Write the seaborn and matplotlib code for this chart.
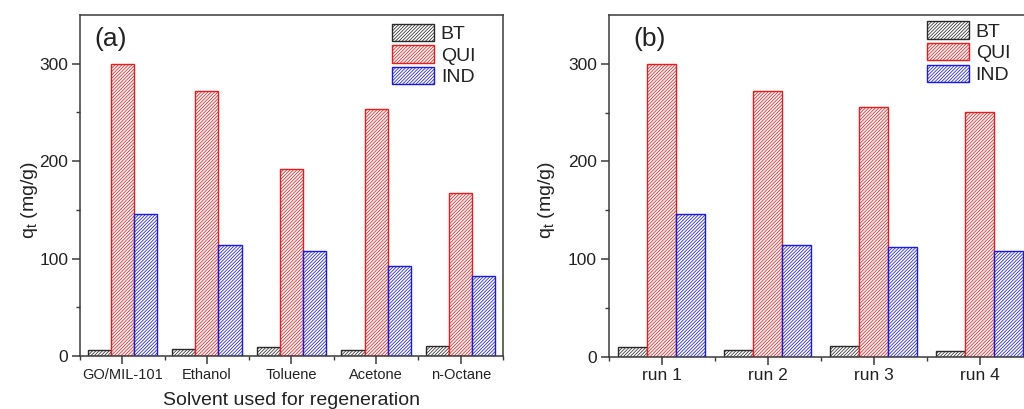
import matplotlib
matplotlib.use("Agg")
import matplotlib.pyplot as plt
import numpy as np
import pandas as pd
import seaborn as sns
from matplotlib.patches import Patch
from matplotlib.ticker import FixedLocator

# Adsorbed amount q_t (mg/g) of each compound
compounds = ["BT", "QUI", "IND"]

solvents = ["GO/MIL-101", "Ethanol", "Toluene", "Acetone", "n-Octane"]
bt_solvent = [6, 7, 9.5, 6, 10.5]
qui_solvent = [300, 272, 192, 254, 167]
ind_solvent = [146, 114, 108, 92.5, 82]

runs = ["run 1", "run 2", "run 3", "run 4"]
bt_runs = [9.5, 7, 11, 6]
qui_runs = [300, 272, 256, 251]
ind_runs = [146.5, 114, 112, 108]

edge_colors = {"BT": "#2a2a2a", "QUI": "#f01818", "IND": "#1818f0"}
HATCH = "//////////"

sns.set_style("ticks")
plt.rcParams["font.family"] = ["Liberation Sans", "DejaVu Sans"]
plt.rcParams["hatch.linewidth"] = 0.55
plt.rcParams["mathtext.default"] = "regular"

TEXT = "#222222"
SPINE = "#3a3a3a"


def long_frame(cats, bt, qui, ind):
    rows = []
    for name, vals in zip(compounds, [bt, qui, ind]):
        for c, v in zip(cats, vals):
            rows.append({"cat": c, "q": v, "compound": name})
    return pd.DataFrame(rows)


def draw_panel(ax, cats, bt, qui, ind, tag, tag_x, leg_anchor, xt_size, ylab_x):
    df = long_frame(cats, bt, qui, ind)
    sns.barplot(data=df, x="cat", y="q", hue="compound", order=cats,
                hue_order=compounds, palette=edge_colors, width=0.82,
                gap=0, saturation=1, legend=False, ax=ax)
    for cont, name in zip(ax.containers, compounds):
        for bar in cont:
            bar.set_facecolor("white")
            bar.set_edgecolor(edge_colors[name])
            bar.set_hatch(HATCH)
            bar.set_linewidth(1.0)

    n = len(cats)
    ax.set_xlim(-0.5, n - 0.5)
    ax.set_ylim(0, 350)
    ax.yaxis.set_major_locator(FixedLocator([0, 100, 200, 300]))
    ax.yaxis.set_minor_locator(FixedLocator([50, 150, 250]))
    ax.xaxis.set_minor_locator(FixedLocator([i + 0.5 for i in range(-1, n)]))

    for s in ax.spines.values():
        s.set_visible(True)
        s.set_linewidth(1.1)
        s.set_color(SPINE)
    ax.tick_params(axis="both", which="major", direction="out", length=6,
                   width=1.1, color=SPINE, pad=2.5, labelcolor=TEXT)
    ax.tick_params(axis="both", which="minor", direction="out", length=3,
                   width=1.0, color=SPINE)
    ax.tick_params(axis="y", labelsize=12.5)
    ax.tick_params(axis="x", labelsize=xt_size)

    ax.set_ylabel("q$_t$ (mg/g)", fontsize=14, color=TEXT)
    ax.yaxis.set_label_coords(ylab_x, 0.457)
    ax.set_xlabel("")

    ax.text(tag_x, 0.93, tag, transform=ax.transAxes, fontsize=19,
            color=TEXT, ha="left", va="center")

    handles = [Patch(facecolor="white", edgecolor=edge_colors[c], hatch=HATCH,
                     linewidth=1.0, label=c) for c in compounds]
    ax.legend(handles=handles, loc="upper left", bbox_to_anchor=leg_anchor,
              frameon=False, fontsize=14, handlelength=2.15,
              handleheight=1.0, labelspacing=0.12, handletextpad=0.35,
              borderpad=0, borderaxespad=0, labelcolor=TEXT)


fig = plt.figure(figsize=(10.24, 4.09), dpi=100)
ax_a = fig.add_axes([0.0781, 0.1296, 0.4131, 0.8337])
ax_b = fig.add_axes([0.5944, 0.1279, 0.4141, 0.8354])

draw_panel(ax_a, solvents, bt_solvent, qui_solvent, ind_solvent,
           "(a)", 0.033, (0.738, 0.975), 10.5, -0.095)
draw_panel(ax_b, runs, bt_runs, qui_runs, ind_runs,
           "(b)", 0.059, (0.751, 0.982), 12.5, -0.122)

ax_a.set_xlabel("Solvent used for regeneration", fontsize=14, color=TEXT,
                labelpad=7)

fig.savefig("out.png", dpi=100)
